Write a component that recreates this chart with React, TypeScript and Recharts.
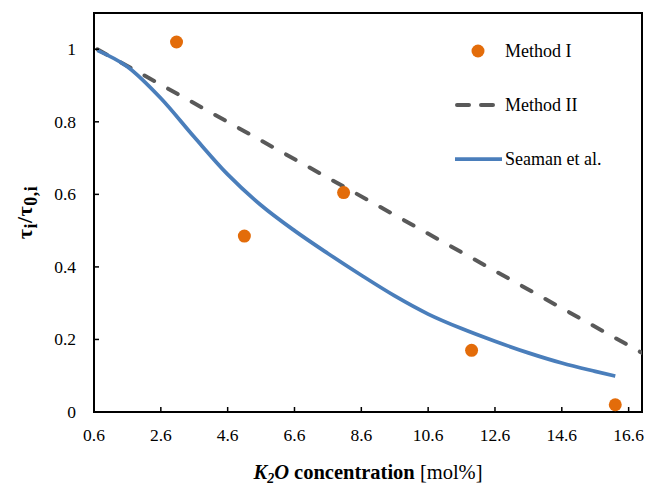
import {
  ComposedChart,
  Line,
  Scatter,
  XAxis,
  YAxis,
  ReferenceArea,
} from 'recharts'

const FONT = 'Liberation Serif'

// Method I measured points
const methodOneX = [3.07, 5.1, 8.07, 11.9, 16.2]
const methodOneY = [1.02, 0.485, 0.605, 0.17, 0.02]

// Method II straight fit
const methodTwoX = [0.7, 17.0]
const methodTwoY = [1.0, 0.163]

// Seaman et al. curve
const seamanX = [0.7, 1.6, 2.6, 3.6, 4.6, 5.6, 6.6, 7.6, 8.6, 9.6, 10.6, 11.6, 12.6, 13.6, 14.6, 15.6, 16.2]
const seamanY = [0.997, 0.952, 0.865, 0.758, 0.655, 0.57, 0.5, 0.437, 0.377, 0.32, 0.27, 0.23, 0.195, 0.163, 0.135, 0.112, 0.099]

const xTicks = [0.6, 2.6, 4.6, 6.6, 8.6, 10.6, 12.6, 14.6, 16.6]
const yTicks = [0, 0.2, 0.4, 0.6, 0.8, 1]
const xDomain = [0.6, 17.0]
const yDomain = [0, 1.1]

const zip = (xs: number[], ys: number[]) => xs.map((x, i) => ({ x, y: ys[i] }))

const methodOne = zip(methodOneX, methodOneY)
const methodTwo = zip(methodTwoX, methodTwoY)
const seaman = zip(seamanX, seamanY)

const ORANGE = '#E36C0A'
const GREY = '#595959'
const BLUE = '#4A7EBB'
const DASH = '11 16'

const legendItems = [
  { name: 'Method I', kind: 'dot' },
  { name: 'Method II', kind: 'dash' },
  { name: 'Seaman et al.', kind: 'line' },
]

function LegendBox() {
  return (
    <div style={{ position: 'absolute', left: 452, top: 24, fontFamily: FONT, fontSize: 18, color: '#000' }}>
      {legendItems.map((it) => (
        <div key={it.name} style={{ display: 'flex', alignItems: 'center', height: 54 }}>
          <svg width={52} height={14} style={{ marginRight: 1 }}>
            {it.kind === 'dot' && <circle cx={26} cy={7} r={6.5} fill={ORANGE} />}
            {it.kind === 'dash' && (
              <line x1={5} y1={7} x2={45} y2={7} stroke={GREY} strokeWidth={4} strokeDasharray="12 12" strokeLinecap="round" />
            )}
            {it.kind === 'line' && <line x1={3} y1={7} x2={50} y2={7} stroke={BLUE} strokeWidth={3.75} />}
          </svg>
          <span>{it.name}</span>
        </div>
      ))}
    </div>
  )
}

function XTick({ x, y, payload }: any) {
  return (
    <g>
      <line x1={x} y1={y} x2={x} y2={y - 5} stroke="#000" strokeWidth={1.5} />
      <text x={x} y={y + 29} textAnchor="middle" fontFamily={FONT} fontSize={17.5} fill="#000">
        {payload.value}
      </text>
    </g>
  )
}

function YTick({ x, y, payload }: any) {
  return (
    <g>
      <line x1={x} y1={y} x2={x + 5} y2={y} stroke="#000" strokeWidth={1.5} />
      <text x={x - 18} y={y + 6} textAnchor="end" fontFamily={FONT} fontSize={17.5} fill="#000">
        {payload.value}
      </text>
    </g>
  )
}

function YTitle({ viewBox }: any) {
  const cx = viewBox.x + 32
  const cy = viewBox.y + viewBox.height / 2
  return (
    <text
      x={cx}
      y={cy}
      transform={`rotate(-90, ${cx}, ${cy})`}
      textAnchor="middle"
      fontFamily={FONT}
      fontWeight="bold"
      fontSize={22}
      fill="#000"
      letterSpacing={0.5}
    >
      <tspan>τ</tspan>
      <tspan fontSize={18} dy={5}>i</tspan>
      <tspan dy={-5}>/τ</tspan>
      <tspan fontSize={18} dy={5}>0,i</tspan>
    </text>
  )
}

function XTitle({ viewBox }: any) {
  const cx = viewBox.x + viewBox.width / 2
  return (
    <text x={cx} y={479} textAnchor="middle" fontFamily={FONT} fontSize={20.5} fill="#000">
      <tspan fontWeight="bold" fontStyle="italic">K</tspan>
      <tspan fontWeight="bold" fontStyle="italic" fontSize={14} dy={4}>2</tspan>
      <tspan fontWeight="bold" fontStyle="italic" dy={-4}>O</tspan>
      <tspan fontWeight="bold"> concentration</tspan>
      <tspan> [mol%]</tspan>
    </text>
  )
}

export default function App() {
  return (
    <div style={{ position: 'absolute', left: 0, top: 0, width: 657, height: 487, background: '#fff' }}>
      <ComposedChart width={657} height={487} margin={{ top: 13, right: 15, bottom: 0, left: 0 }}>
        <XAxis
          type="number"
          dataKey="x"
          domain={xDomain}
          ticks={xTicks}
          allowDataOverflow
          height={75}
          tick={XTick}
          tickSize={0}
          tickMargin={0}
          tickLine={false}
          axisLine={{ stroke: '#000', strokeWidth: 2 }}
          label={{ content: XTitle }}
        />
        <YAxis
          type="number"
          dataKey="y"
          domain={yDomain}
          ticks={yTicks}
          allowDataOverflow
          width={94}
          tick={YTick}
          tickSize={0}
          tickMargin={0}
          tickLine={false}
          axisLine={{ stroke: '#000', strokeWidth: 2 }}
          label={{ content: YTitle }}
        />
        <ReferenceArea
          x1={xDomain[0]}
          x2={xDomain[1]}
          y1={yDomain[0]}
          y2={yDomain[1]}
          fill="#fff"
          fillOpacity={0}
          stroke="#000"
          strokeWidth={2}
          ifOverflow="visible"
        />
        <Line
          data={methodTwo}
          dataKey="y"
          name="Method II"
          type="linear"
          stroke={GREY}
          strokeWidth={4}
          strokeDasharray={DASH}
          strokeLinecap="round"
          dot={false}
          activeDot={false}
          isAnimationActive={false}
        />
        <Line
          data={seaman}
          dataKey="y"
          name="Seaman et al."
          type="monotone"
          stroke={BLUE}
          strokeWidth={3.75}
          dot={false}
          activeDot={false}
          isAnimationActive={false}
        />
        <Scatter
          data={methodOne}
          dataKey="y"
          name="Method I"
          fill={ORANGE}
          shape={(p: any) => <circle cx={p.cx} cy={p.cy} r={6.5} fill={ORANGE} />}
          isAnimationActive={false}
        />
      </ComposedChart>
      <LegendBox />
    </div>
  )
}
